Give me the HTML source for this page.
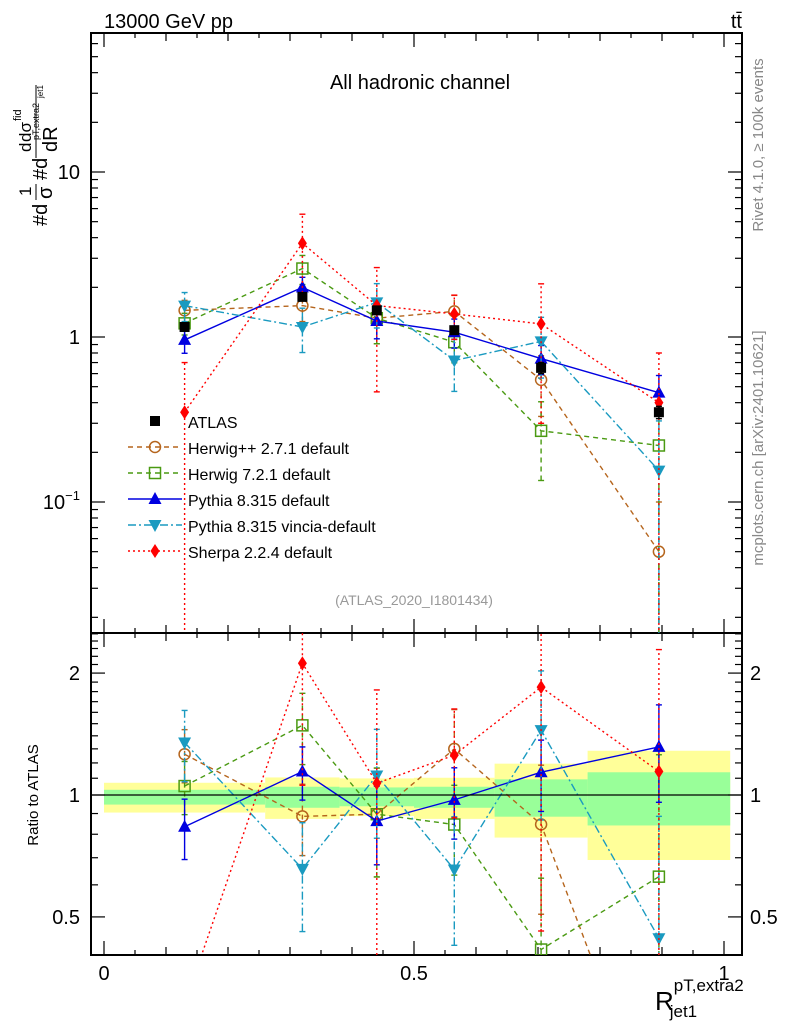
<!DOCTYPE html>
<html><head><meta charset="utf-8"><style>
html,body{margin:0;background:#fff;overflow:hidden;width:786px;height:1024px;}
svg{display:block;font-family:"Liberation Sans",sans-serif;}
</style></head><body>
<svg id="c" width="786" height="1024" viewBox="0 0 786 1024" xmlns="http://www.w3.org/2000/svg">
<g id="bands"></g>
<g id="grid"></g>
<g id="series"></g>
<text x="104" y="28" font-size="20">13000 GeV pp</text>
<text x="742" y="28" font-size="20" text-anchor="end">tt̄</text>
<text x="420" y="89" font-size="20" text-anchor="middle">All hadronic channel</text>
<text x="414" y="605" font-size="14" fill="#999" text-anchor="middle">(ATLAS_2020_I1801434)</text>
<text transform="translate(763,145) rotate(-90)" font-size="15" fill="#888" text-anchor="middle">Rivet 4.1.0, ≥ 100k events</text>
<text transform="translate(763,448) rotate(-90)" font-size="15" fill="#888" text-anchor="middle">mcplots.cern.ch [arXiv:2401.10621]</text>
<g transform="rotate(-90)">
<text x="-226" y="47" font-size="20">#d</text>
<text x="-196" y="31" font-size="17">1</text>
<line x1="-200" x2="-184" y1="36" y2="36" stroke="#000" stroke-width="1"/>
<text x="-199" y="52" font-size="20">σ</text>
<text x="-180" y="47" font-size="20">#d</text>
<text x="-152" y="31" font-size="17">d</text>
<text x="-142" y="31" font-size="17">dσ</text>
<text x="-121" y="21" font-size="11">fid</text>
<text x="-140" y="39" font-size="9">pT,extra2</text>
<text x="-98" y="43" font-size="8">jet1</text>
<line x1="-158" x2="-85" y1="36" y2="36" stroke="#000" stroke-width="1"/>
<text x="-152" y="57" font-size="20">dR</text>
</g>
<text transform="translate(38,795) rotate(-90)" font-size="15" text-anchor="middle">Ratio to ATLAS</text>
<text x="655" y="1010" font-size="26">R<tspan font-size="17" dy="-19">pT,extra2</tspan><tspan font-size="17" dx="-74" dy="26">jet1</tspan></text>
</svg>
<script>
const edges=[0,0.26,0.38,0.5,0.63,0.78,1.01];
const atlas=[1.15,1.75,1.45,1.10,0.65,0.35];
const atlasErr=[0.06,0.09,0.08,0.06,0.05,0.03];
const bandYellowUp=[1.072,1.105,1.099,1.103,1.195,1.286];
const bandYellowDn=[0.905,0.873,0.887,0.873,0.785,0.691];
const bandGreenUp=[1.03,1.048,1.044,1.048,1.093,1.138];
const bandGreenDn=[0.947,0.93,0.938,0.93,0.884,0.841];
const herwigpp=[1.45,1.55,1.30,1.43,0.55,0.05];
const herwigppErr=[0.15,0.2,0.3,0.25,0.4,1.0];
const herwig7=[1.21,2.6,1.30,0.93,0.27,0.22];
const herwig7Err=[0.15,0.2,0.3,0.25,0.5,1.0];
const pythia=[0.96,2.0,1.25,1.07,0.74,0.46];
const pythiaErr=[0.17,0.15,0.22,0.2,0.2,0.27];
const vincia=[1.55,1.15,1.62,0.72,0.94,0.155];
const vinciaErr=[0.2,0.3,0.3,0.35,0.4,1.0];
const sherpa=[0.35,3.7,1.55,1.38,1.2,0.40];
const sherpaErr=[1.0,0.5,0.7,0.3,0.75,1.0];

const NS="http://www.w3.org/2000/svg";
const X0=91,X1=742,T=33,MID=633,B=955;
const xs=v=>104+620*v;
const ym=v=>337-165*Math.log10(v);
const yr=r=>795-405*Math.log10(r);
function mk(p,tag,at){const e=document.createElementNS(NS,tag);for(const k in at)e.setAttribute(k,at[k]);p.appendChild(e);return e;}
const gb=document.getElementById('bands'),gg=document.getElementById('grid'),gs=document.getElementById('series');
const mid=i=>(edges[i]+edges[i+1])/2;

for(let i=0;i<6;i++){
  const x=xs(edges[i]),w=xs(Math.min(edges[i+1],1.01))-x;
  let r=mk(gb,'rect',{x:x,y:yr(bandYellowUp[i]),width:w,height:yr(bandYellowDn[i])-yr(bandYellowUp[i]),fill:'#ffff99'});
  
  
  r=mk(gb,'rect',{x:x,y:yr(bandGreenUp[i]),width:w,height:yr(bandGreenDn[i])-yr(bandGreenUp[i]),fill:'#99ff99'});
  
  
}
mk(gg,'rect',{x:X0,y:T,width:X1-X0,height:MID-T,fill:'none',stroke:'#000','stroke-width':2});
mk(gg,'rect',{x:X0,y:MID,width:X1-X0,height:B-MID,fill:'none',stroke:'#000','stroke-width':2});
for(let k=0;k<=20;k++){const v=k*0.05,x=xs(v);const L=(k%10==0)?14:(k%2==0?8:5);
  [[T,1],[MID,-1],[MID,1],[B,-1]].forEach(([y,d])=>mk(gg,'line',{x1:x,x2:x,y1:y,y2:y+d*L,stroke:'#000','stroke-width':1.2}));
  if(k%10==0){const t=mk(gg,'text',{x:x,y:980,'font-size':20,'text-anchor':'middle'});t.textContent=(v==0.5?'0.5':String(v));
    
    }
}
for(let e=-2;e<=1;e++)for(let m=1;m<=9;m++){const v=m*Math.pow(10,e),y=ym(v);if(y<T||y>MID)continue;const L=m==1?14:7;
  mk(gg,'line',{x1:X0,x2:X0+L,y1:y,y2:y,stroke:'#000','stroke-width':1.2});
  mk(gg,'line',{x1:X1,x2:X1-L,y1:y,y2:y,stroke:'#000','stroke-width':1.2});}
[[0.1,'10',"−1"],[1,'1',null],[10,'10',null]].forEach(([v,s,sup])=>{const t=mk(gg,'text',{x:80,y:ym(v)+7,'font-size':20,'text-anchor':'end'});t.textContent=s;
  if(sup){const ts=mk(t,'tspan',{'font-size':13,dy:-9});ts.textContent=sup;}
  
  });
for(let k=4;k<=25;k++){const v=k/10,y=yr(v);if(y<MID||y>B)continue;const maj=(k==5||k==10||k==20);const L=maj?14:7;
  mk(gg,'line',{x1:X0,x2:X0+L,y1:y,y2:y,stroke:'#000','stroke-width':1.2});
  mk(gg,'line',{x1:X1,x2:X1-L,y1:y,y2:y,stroke:'#000','stroke-width':1.2});
  if(maj){const s=k==5?'0.5':String(v);
    let t=mk(gg,'text',{x:80,y:y+7,'font-size':20,'text-anchor':'end'});t.textContent=s;
    
    
    t=mk(gg,'text',{x:750,y:y+7,'font-size':20});t.textContent=s;
    
    }}

const defs=mk(document.getElementById('c'),'defs',{});
let cp=mk(defs,'clipPath',{id:'cm'});mk(cp,'rect',{x:X0,y:T,width:X1-X0,height:MID-T});
cp=mk(defs,'clipPath',{id:'cr'});mk(cp,'rect',{x:X0,y:MID,width:X1-X0,height:B-MID});

function marker(g,type,x,y,col){
  if(type=='sq')return mk(g,'rect',{x:x-5,y:y-5,width:10,height:10,fill:'#000'});
  if(type=='circ')return mk(g,'circle',{cx:x,cy:y,r:5.5,fill:'none',stroke:col,'stroke-width':1.5});
  if(type=='osq')return mk(g,'rect',{x:x-5.5,y:y-5.5,width:11,height:11,fill:'none',stroke:col,'stroke-width':1.5});
  if(type=='tri')return mk(g,'path',{d:`M${x},${y-7}L${x+6.5},${y+5}L${x-6.5},${y+5}Z`,fill:col});
  if(type=='itri')return mk(g,'path',{d:`M${x},${y+7}L${x+6.5},${y-5}L${x-6.5},${y-5}Z`,fill:col});
  if(type=='dia')return mk(g,'path',{d:`M${x},${y-7}L${x+4.5},${y}L${x},${y+7}L${x-4.5},${y}Z`,fill:col});
}
const models=[
 {n:'herwigpp',v:herwigpp,e:herwigppErr,c:'#b5651d',d:'5,4',m:'circ',lab:'Herwig++ 2.7.1 default'},
 {n:'herwig7',v:herwig7,e:herwig7Err,c:'#4a9a12',d:'5,4',m:'osq',lab:'Herwig 7.2.1 default'},
 {n:'pythia',v:pythia,e:pythiaErr,c:'#0000e0',d:'',m:'tri',lab:'Pythia 8.315 default'},
 {n:'vincia',v:vincia,e:vinciaErr,c:'#1a9ac0',d:'8,3,2,3',m:'itri',lab:'Pythia 8.315 vincia-default'},
 {n:'sherpa',v:sherpa,e:sherpaErr,c:'#ff0000',d:'2,3',m:'dia',lab:'Sherpa 2.2.4 default'}];
function drawSeries(name,vals,errs,col,dash,mt,yf,norm,clip){
  const g=mk(gs,'g',{'clip-path':`url(#${clip})`});
  
  
  const pts=vals.map((v,i)=>[xs(mid(i)),yf(v/norm[i])]);
  if(col!='#000')mk(g,'polyline',{points:pts.map(p=>p.join(',')).join(' '),fill:'none',stroke:col,'stroke-width':1.4,'stroke-dasharray':dash});
  vals.forEach((v,i)=>{const r=v/norm[i],er=errs[i]*(col=='#000'?1:r);const lo=r-er>0?yf(r-er):2000,hi=yf(r+er),x=pts[i][0];
    if(pts[i][1]>B+5&&clip=='cr')return;
    mk(g,'line',{x1:x,x2:x,y1:lo,y2:hi,stroke:col,'stroke-width':1.4,'stroke-dasharray':dash});
    mk(g,'line',{x1:x-3,x2:x+3,y1:hi,y2:hi,stroke:col,'stroke-width':1.4});
    if(lo<2000)mk(g,'line',{x1:x-3,x2:x+3,y1:lo,y2:lo,stroke:col,'stroke-width':1.4});
    const mm=marker(g,mt,x,pts[i][1],col);
    
    
  });
}
const ones=[1,1,1,1,1,1];
models.forEach(M=>{
  drawSeries(M.n+'-main',M.v,M.e,M.c,M.d,M.m,ym,ones,'cm');
  drawSeries(M.n+'-ratio',M.v,M.e,M.c,M.d,M.m,yr,atlas,'cr');
});
drawSeries('atlas-main',atlas,atlasErr,'#000','','sq',ym,ones,'cm');
mk(gs,'line',{x1:X0,x2:X1,y1:yr(1),y2:yr(1),stroke:'#000','stroke-width':1.2});

const lg=mk(gs,'g',{});


let t=mk(lg,'text',{x:188,y:428,'font-size':16});t.textContent='ATLAS';
marker(lg,'sq',155,421,'#000');
models.forEach((M,i)=>{const y=447+i*26;const e=mk(lg,'g',{});
  
  
  mk(e,'line',{x1:128,x2:182,y1:y,y2:y,stroke:M.c,'stroke-width':1.4,'stroke-dasharray':M.d});
  marker(e,M.m,155,y,M.c);
  const tt=mk(e,'text',{x:188,y:y+7,'font-size':16});tt.textContent=M.lab;});
</script>
</body></html>
